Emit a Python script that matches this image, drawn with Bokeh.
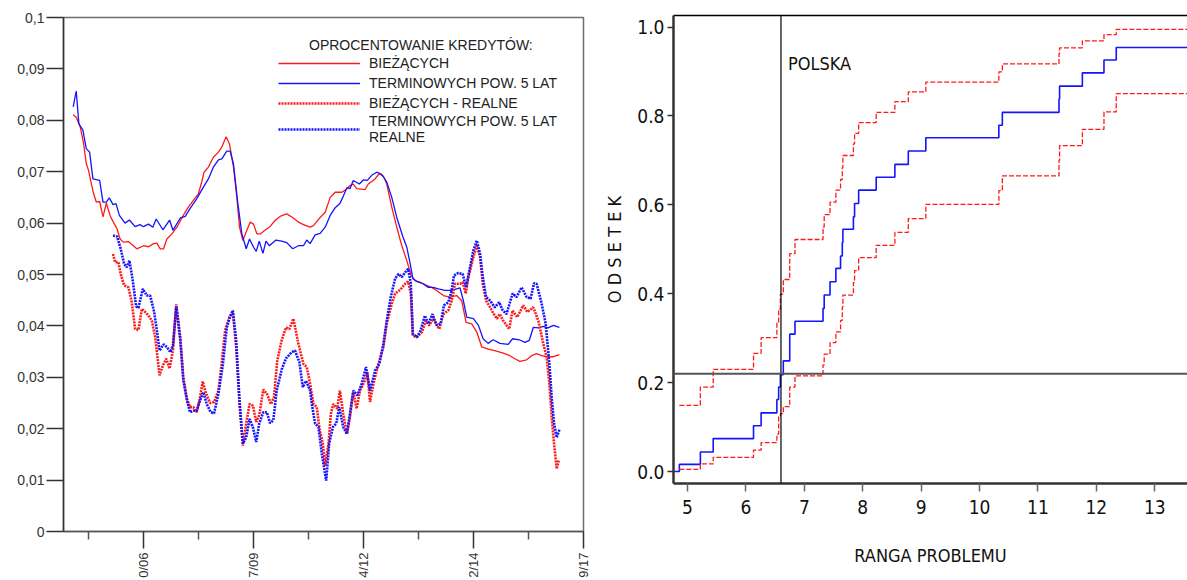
import math
from bokeh.plotting import figure
from bokeh.models import (FixedTicker, CustomJSTickFormatter, Legend, LegendItem,
                          Span, Label, LinearAxis, PrintfTickFormatter, Range1d)
from bokeh.layouts import row
from bokeh.embed import file_html
from bokeh.resources import INLINE

# ---------------- LEFT CHART DATA (x = months since Jan 2005) ----------------
biez_x = [0.0, 0.9, 2.1, 3.1, 3.9, 4.6, 5.3, 6.1, 6.9, 7.9, 8.9, 9.9, 11.1, 12.0, 13.1, 14.0, 15.0, 16.5,
          19.0, 21.0, 22.5, 24.0, 25.0, 26.0, 27.0, 28.0, 29.5, 31.0, 32.9, 34.4, 35.9, 37.4, 38.4, 39.1,
          40.4, 41.9, 43.4, 44.4, 45.7, 46.7, 47.9, 48.9, 49.7, 50.7, 51.9, 52.9, 53.9, 54.9, 55.9, 57.3,
          58.8, 60.3, 61.8, 63.8, 65.8, 67.3, 68.8, 70.8, 71.8, 73.8, 75.3, 76.8, 78.3, 80.3, 81.8, 82.7,
          83.7, 84.7, 87.2, 88.2, 90.2, 91.4, 92.7, 93.7, 95.2, 96.7, 98.2, 99.7, 101.0, 102.2, 103.6,
          105.6, 107.1, 108.6, 110.6, 112.6, 114.6, 116.1, 117.4, 119.1, 120.6, 122.1, 124.0, 126.0,
          128.5, 130.5, 132.0, 133.5, 135.5, 137.0, 138.5, 140.0, 141.5, 143.5, 145.3]
biez_y = [0.0811, 0.0806, 0.0787, 0.0755, 0.0716, 0.0702, 0.0680, 0.0657, 0.0641, 0.0642, 0.0612, 0.0639,
          0.0613, 0.0602, 0.0589, 0.0569, 0.0563, 0.0564, 0.0550, 0.0556, 0.0554, 0.0560, 0.0561, 0.0550,
          0.0550, 0.0569, 0.0579, 0.0592, 0.0615, 0.0631, 0.0644, 0.0657, 0.0680, 0.0699, 0.0709, 0.0728,
          0.0738, 0.0748, 0.0768, 0.0754, 0.0709, 0.0650, 0.0592, 0.0566, 0.0586, 0.0602, 0.0598, 0.0579,
          0.0579, 0.0586, 0.0593, 0.0605, 0.0613, 0.0618, 0.0610, 0.0602, 0.0597, 0.0592, 0.0595, 0.0611,
          0.0621, 0.0650, 0.0660, 0.0660, 0.0667, 0.0673, 0.0676, 0.0667, 0.0665, 0.0676, 0.0686, 0.0696,
          0.0691, 0.0676, 0.0631, 0.0592, 0.0556, 0.0527, 0.0498, 0.0488, 0.0485, 0.0479, 0.0475, 0.0469,
          0.0459, 0.0456, 0.0459, 0.0449, 0.0407, 0.0404, 0.0388, 0.0359, 0.0355, 0.0352, 0.0347, 0.0342,
          0.0336, 0.0331, 0.0334, 0.0342, 0.0346, 0.0342, 0.0340, 0.0340, 0.0344]

term_x = [0.0, 0.9, 1.7, 2.9, 3.9, 4.9, 5.9, 7.9, 8.9, 9.9, 10.8, 11.9, 12.8, 13.8, 15.5, 16.8, 18.5, 20.0,
          21.0, 22.5, 23.8, 24.8, 26.8, 28.8, 29.8, 32.0, 33.5, 34.9, 36.9, 38.9, 40.4, 41.9, 43.4, 44.4,
          45.9, 46.9, 47.9, 49.1, 50.4, 51.7, 52.7, 53.9, 54.7, 55.6, 56.7, 57.6, 58.6, 60.6, 62.3, 63.8,
          65.6, 67.3, 68.8, 69.8, 70.8, 72.3, 73.8, 75.3, 76.8, 78.3, 79.7, 80.7, 81.8, 82.7, 83.7, 85.5,
          86.7, 87.9, 89.2, 90.7, 92.2, 93.7, 95.2, 96.7, 98.5, 99.7, 100.7, 101.5, 102.8, 104.6, 106.1,
          107.6, 109.1, 111.1, 113.1, 115.6, 116.6, 117.6, 119.6, 121.1, 122.5, 124.0, 125.5, 127.5, 130.0,
          131.3, 133.3, 135.0, 136.3, 137.5, 139.0, 140.5, 141.9, 143.5, 145.3]
term_y = [0.0826, 0.0857, 0.0793, 0.0781, 0.0745, 0.0738, 0.0686, 0.0683, 0.0641, 0.0641, 0.0649, 0.0636,
          0.0638, 0.0615, 0.0600, 0.0606, 0.0593, 0.0597, 0.0593, 0.0598, 0.0592, 0.0608, 0.0587, 0.0606,
          0.0586, 0.0610, 0.0613, 0.0628, 0.0647, 0.0670, 0.0686, 0.0709, 0.0723, 0.0725, 0.0740, 0.0740,
          0.0715, 0.0644, 0.0579, 0.0550, 0.0569, 0.0553, 0.0545, 0.0565, 0.0541, 0.0565, 0.0556, 0.0567,
          0.0565, 0.0562, 0.0550, 0.0556, 0.0556, 0.0567, 0.0560, 0.0577, 0.0580, 0.0592, 0.0615, 0.0630,
          0.0638, 0.0652, 0.0669, 0.0667, 0.0683, 0.0676, 0.0684, 0.0683, 0.0693, 0.0699, 0.0695, 0.0680,
          0.0650, 0.0611, 0.0574, 0.0553, 0.0521, 0.0492, 0.0486, 0.0482, 0.0475, 0.0475, 0.0472, 0.0469,
          0.0469, 0.0474, 0.0449, 0.0417, 0.0414, 0.0401, 0.0375, 0.0366, 0.0373, 0.0366, 0.0364, 0.0375,
          0.0373, 0.0368, 0.0372, 0.0397, 0.0396, 0.0399, 0.0396, 0.0401, 0.0397]

biez_real_x = [11.9, 12.5, 13.5, 14.2, 15.2, 16.5, 17.5, 18.5, 19.5, 20.5, 21.5, 22.5, 23.5, 24.5, 25.8,
               26.8, 27.8, 28.8, 29.8, 30.8, 32.0, 32.9, 34.0, 34.9, 35.9, 36.9, 37.9, 38.7, 39.7, 40.9,
               42.1, 43.4, 44.4, 45.4, 46.7, 47.7, 48.7, 49.7, 50.7, 51.7, 52.7, 53.7, 54.7, 55.6, 56.8,
               57.9, 59.1, 60.0, 61.0, 62.3, 63.6, 64.6, 65.8, 67.3, 68.8, 69.8, 70.8, 71.8, 72.8, 73.6,
               74.6, 75.3, 76.3, 77.0, 77.7, 78.9, 79.7, 80.7, 81.8, 82.7, 83.7, 84.7, 85.7, 87.2, 87.9,
               88.7, 89.7, 91.2, 92.7, 93.7, 95.2, 96.2, 97.7, 99.2, 100.1, 100.9, 101.5, 102.7, 104.2,
               105.4, 106.4, 107.6, 109.4, 110.6, 112.1, 113.1, 114.1, 115.6, 116.4, 117.3, 118.1, 119.6,
               120.6, 121.6, 122.4, 123.4, 124.6, 125.7, 126.6, 127.5, 128.5, 130.3, 131.3, 132.7, 134.5,
               135.7, 137.5, 139.0, 140.5, 141.5, 142.3, 143.0, 143.7, 144.5, 145.1]
biez_real_y = [0.0540, 0.0524, 0.0524, 0.0501, 0.0479, 0.0475, 0.0446, 0.0394, 0.0392, 0.0433, 0.0427,
               0.0420, 0.0410, 0.0378, 0.0304, 0.0323, 0.0336, 0.0317, 0.0352, 0.0442, 0.0378, 0.0300,
               0.0258, 0.0242, 0.0242, 0.0232, 0.0261, 0.0292, 0.0268, 0.0250, 0.0252, 0.0274, 0.0329,
               0.0391, 0.0418, 0.0427, 0.0359, 0.0248, 0.0167, 0.0210, 0.0248, 0.0245, 0.0213, 0.0226,
               0.0276, 0.0268, 0.0248, 0.0261, 0.0333, 0.0372, 0.0397, 0.0394, 0.0414, 0.0365, 0.0326,
               0.0320, 0.0287, 0.0248, 0.0242, 0.0200, 0.0171, 0.0128, 0.0171, 0.0229, 0.0248, 0.0239,
               0.0274, 0.0229, 0.0190, 0.0222, 0.0271, 0.0239, 0.0274, 0.0294, 0.0310, 0.0252, 0.0287,
               0.0326, 0.0359, 0.0404, 0.0443, 0.0463, 0.0470, 0.0482, 0.0486, 0.0463, 0.0381, 0.0378,
               0.0388, 0.0410, 0.0401, 0.0414, 0.0394, 0.0423, 0.0430, 0.0449, 0.0482, 0.0482, 0.0485,
               0.0463, 0.0495, 0.0534, 0.0556, 0.0534, 0.0482, 0.0449, 0.0436, 0.0423, 0.0414, 0.0423,
               0.0410, 0.0394, 0.0430, 0.0417, 0.0440, 0.0427, 0.0436, 0.0410, 0.0365, 0.0339, 0.0287,
               0.0222, 0.0171, 0.0122, 0.0138]

term_real_x = [11.9, 13.1, 14.2, 15.2, 16.0, 16.8, 17.8, 18.8, 19.5, 20.8, 22.0, 23.0, 24.2, 25.0, 25.8,
               27.0, 28.0, 29.0, 29.8, 30.8, 32.0, 32.9, 34.0, 34.9, 35.9, 36.9, 37.9, 38.9, 39.9, 41.1,
               42.1, 43.4, 44.7, 45.9, 46.9, 47.7, 48.7, 49.7, 50.7, 51.7, 52.7, 53.7, 54.7, 55.6, 56.8,
               57.9, 58.8, 59.8, 60.8, 62.3, 63.6, 65.3, 66.3, 67.6, 68.6, 69.6, 70.8, 71.3, 72.3, 73.3,
               74.3, 75.6, 76.5, 77.6, 78.6, 79.5, 80.7, 81.8, 82.7, 83.7, 84.9, 86.2, 87.5, 88.7, 90.2,
               91.5, 92.7, 93.7, 94.9, 96.2, 97.2, 98.2, 99.2, 100.1, 100.9, 101.5, 102.7, 103.8, 105.1,
               106.1, 107.4, 108.6, 109.8, 110.8, 112.1, 113.1, 113.8, 115.1, 116.4, 117.4, 118.4, 119.6,
               120.6, 121.6, 122.4, 123.4, 124.6, 126.0, 127.3, 128.3, 129.5, 131.3, 132.5, 134.0, 135.5,
               136.7, 137.7, 138.5, 140.0, 141.2, 142.3, 143.0, 143.7, 144.5, 145.3]
term_real_y = [0.0576, 0.0574, 0.0550, 0.0521, 0.0514, 0.0527, 0.0488, 0.0438, 0.0435, 0.0472, 0.0459,
               0.0459, 0.0427, 0.0391, 0.0352, 0.0364, 0.0359, 0.0349, 0.0362, 0.0438, 0.0372, 0.0294,
               0.0255, 0.0232, 0.0235, 0.0235, 0.0255, 0.0271, 0.0248, 0.0232, 0.0230, 0.0268, 0.0323,
               0.0397, 0.0418, 0.0430, 0.0372, 0.0255, 0.0171, 0.0183, 0.0219, 0.0203, 0.0174, 0.0210,
               0.0232, 0.0232, 0.0211, 0.0216, 0.0274, 0.0315, 0.0337, 0.0349, 0.0352, 0.0329, 0.0281,
               0.0293, 0.0274, 0.0248, 0.0210, 0.0203, 0.0151, 0.0099, 0.0171, 0.0203, 0.0210, 0.0242,
               0.0203, 0.0190, 0.0229, 0.0274, 0.0265, 0.0287, 0.0320, 0.0274, 0.0313, 0.0326, 0.0365,
               0.0410, 0.0456, 0.0492, 0.0501, 0.0495, 0.0504, 0.0511, 0.0482, 0.0385, 0.0378, 0.0391,
               0.0420, 0.0404, 0.0423, 0.0401, 0.0404, 0.0440, 0.0446, 0.0469, 0.0498, 0.0503, 0.0501,
               0.0475, 0.0508, 0.0547, 0.0566, 0.0540, 0.0495, 0.0456, 0.0449, 0.0436, 0.0446, 0.0431,
               0.0423, 0.0463, 0.0456, 0.0475, 0.0456, 0.0453, 0.0483, 0.0482, 0.0443, 0.0404, 0.0326,
               0.0261, 0.0210, 0.0183, 0.0198]

x_major_ticks = [21.0, 53.85, 86.7, 119.55, 152.4]
x_minor_ticks = [4.57, 37.4, 70.3, 103.1, 136.0]
x_tick_labels = ["0/06", "7/09", "4/12", "2/14", "9/17"]
y_ticks_left = [0.0, 0.01, 0.02, 0.03, 0.04, 0.05, 0.06, 0.07, 0.08, 0.09, 0.1]

legend_title = "OPROCENTOWANIE KREDYTÓW:"
series_names = ["BIEŻĄCYCH", "TERMINOWYCH POW. 5 LAT", "BIEŻĄCYCH - REALNE",
                "TERMINOWYCH POW. 5 LAT\nREALNE"]

# ---------------- RIGHT CHART DATA ----------------
rank_steps = [4.86, 5.22, 5.44, 6.13, 6.26, 6.53, 6.56, 6.59, 6.64, 6.75, 6.84, 7.32, 7.34, 7.44, 7.54,
              7.62, 7.65, 7.66, 7.84, 7.86, 7.93, 8.23, 8.55, 8.78, 9.08, 10.33, 10.39, 11.36, 11.37,
              11.76, 12.13, 12.34]
share_mid = [0.016, 0.044, 0.074, 0.103, 0.132, 0.162, 0.190, 0.218, 0.249, 0.309, 0.338, 0.367, 0.397,
             0.427, 0.457, 0.485, 0.515, 0.545, 0.573, 0.603, 0.633, 0.662, 0.691, 0.721, 0.751, 0.779,
             0.808, 0.838, 0.867, 0.897, 0.926, 0.954]
share_upper = [0.149, 0.190, 0.230, 0.266, 0.301, 0.335, 0.365, 0.399, 0.432, 0.490, 0.522, 0.550, 0.578,
               0.606, 0.633, 0.657, 0.684, 0.711, 0.737, 0.761, 0.785, 0.808, 0.832, 0.854, 0.876, 0.899,
               0.917, 0.940, 0.953, 0.969, 0.983, 0.995]
share_lower = [0.005, 0.017, 0.032, 0.048, 0.065, 0.084, 0.123, 0.130, 0.146, 0.190, 0.215, 0.240, 0.264,
               0.290, 0.314, 0.340, 0.370, 0.397, 0.425, 0.452, 0.481, 0.509, 0.538, 0.569, 0.601, 0.632,
               0.665, 0.700, 0.733, 0.770, 0.809, 0.850]
polska_rank = 6.6
polska_share = 0.22
x_ticks_right = [5, 6, 7, 8, 9, 10, 11, 12, 13]
y_ticks_right = [0.0, 0.2, 0.4, 0.6, 0.8, 1.0]

RED = "#ff1a1a"
BLUE = "#1414ff"
ARIAL = "Liberation Sans"
NARROW = "DejaVu Sans Condensed"

# ================= LEFT FIGURE =================
xr_left = Range1d(-2.9, 152.5)
p1 = figure(width=600, height=580, output_backend="svg", toolbar_location=None,
            x_range=xr_left, y_range=Range1d(0, 0.1),
            min_border_left=63, min_border_right=17, min_border_top=17, min_border_bottom=49)
p1.frame_align = False
p1.grid.visible = False
p1.outline_line_color = "#6e6e6e"
p1.outline_line_width = 1.5
p1.background_fill_color = "white"
p1.border_fill_color = "white"

r1 = p1.line(biez_x, biez_y, line_color=RED, line_width=1.3)
r2 = p1.line(term_x, term_y, line_color=BLUE, line_width=1.3)
r3 = p1.line(biez_real_x, biez_real_y, line_color=RED, line_width=2.6, line_dash="2 1")
r4 = p1.line(term_real_x, term_real_y, line_color=BLUE, line_width=2.6, line_dash="2 1")

xa = p1.xaxis[0]
xa.ticker = FixedTicker(ticks=x_major_ticks, minor_ticks=x_minor_ticks)
xa.formatter = CustomJSTickFormatter(args=dict(labels=x_tick_labels), code="return labels[index];")
xa.major_label_orientation = math.pi / 2
xa.major_tick_out = 17
xa.major_tick_in = 0
xa.minor_tick_out = 8
xa.minor_tick_in = 0
xa.axis_line_color = "#555555"
xa.axis_line_width = 1.5
xa.major_tick_line_color = "#333333"
xa.major_tick_line_width = 1.5
xa.minor_tick_line_color = "#555555"
xa.minor_tick_line_width = 1.5
xa.major_label_text_font = ARIAL
xa.major_label_text_font_size = "13px"
xa.major_label_text_color = "#333333"
xa.major_label_standoff = 4

ya = p1.yaxis[0]
ya.ticker = FixedTicker(ticks=y_ticks_left)
ya.formatter = CustomJSTickFormatter(code="return String(+tick.toFixed(2)).replace('.', ',');")
ya.major_tick_out = 17
ya.major_tick_in = 0
ya.minor_tick_line_color = None
ya.axis_line_color = "#333333"
ya.axis_line_width = 1.5
ya.major_tick_line_color = "#333333"
ya.major_tick_line_width = 1.5
ya.major_label_text_font = ARIAL
ya.major_label_text_font_size = "14px"
ya.major_label_text_color = "#333333"
ya.major_label_standoff = 2

legend = Legend(items=[LegendItem(label=series_names[0], renderers=[r1]),
                       LegendItem(label=series_names[1], renderers=[r2]),
                       LegendItem(label=series_names[2], renderers=[r3]),
                       LegendItem(label=series_names[3], renderers=[r4])],
                location=(215, 386), glyph_width=82, glyph_height=20, label_height=20,
                label_standoff=9, spacing=0, padding=0, margin=0,
                border_line_color=None, background_fill_alpha=0,
                label_text_font=ARIAL, label_text_font_size="14px", label_text_color="#222222")
p1.add_layout(legend)
p1.add_layout(Label(x=103.9, y=0.0946, text=legend_title, text_align="center",
                    text_baseline="middle", text_font=ARIAL, text_font_size="14px",
                    text_color="#222222"))

# ================= RIGHT FIGURE =================
x_end = 13.56
p2 = figure(width=587, height=580, output_backend="svg", toolbar_location=None,
            x_range=Range1d(4.76, x_end), y_range=Range1d(-0.027, 1.026),
            min_border_left=73, min_border_right=0, min_border_top=15, min_border_bottom=97)
p2.frame_align = False
p2.grid.visible = False
p2.outline_line_color = None

p2.step([4.76] + rank_steps + [x_end], [0.0] + share_mid + [share_mid[-1]], mode="after",
        line_color=BLUE, line_width=1.6)
p2.step(rank_steps + [x_end], share_upper + [share_upper[-1]], mode="after",
        line_color=RED, line_width=1.3, line_dash="5 2")
p2.step(rank_steps + [x_end], share_lower + [share_lower[-1]], mode="after",
        line_color=RED, line_width=1.3, line_dash="5 2")

p2.add_layout(Span(location=polska_rank, dimension="height", line_color="black", line_width=1.2))
p2.add_layout(Span(location=polska_share, dimension="width", line_color="#555555", line_width=2))
p2.add_layout(Label(x=polska_rank + 0.12, y=0.917, text="POLSKA", text_baseline="middle",
                    text_font=NARROW, text_font_size="18px", text_color="#111111"))

xb = p2.xaxis[0]
xb.ticker = FixedTicker(ticks=x_ticks_right)
xb.minor_tick_line_color = None
xb.major_tick_out = 8
xb.major_tick_in = 0
xb.major_tick_line_color = "#666666"
xb.major_tick_line_width = 1.5
xb.axis_line_color = "#333333"
xb.axis_line_width = 2.5
xb.major_label_text_font = NARROW
xb.major_label_text_font_size = "19px"
xb.major_label_text_color = "#111111"
xb.major_label_standoff = 8
xb.axis_label = "RANGA PROBLEMU"
xb.axis_label_text_font = NARROW
xb.axis_label_text_font_size = "18px"
xb.axis_label_text_font_style = "normal"
xb.axis_label_text_color = "#111111"
xb.axis_label_standoff = 28

yb = p2.yaxis[0]
yb.ticker = FixedTicker(ticks=y_ticks_right)
yb.formatter = PrintfTickFormatter(format="%.1f")
yb.minor_tick_line_color = None
yb.major_tick_out = 6
yb.major_tick_in = 0
yb.major_tick_line_color = "#333333"
yb.major_tick_line_width = 1.5
yb.axis_line_color = "#333333"
yb.axis_line_width = 2.5
yb.major_label_text_font = NARROW
yb.major_label_text_font_size = "19px"
yb.major_label_text_color = "#111111"
yb.major_label_standoff = 3
yb.axis_label = "O D S E T E K"
yb.axis_label_text_font = NARROW
yb.axis_label_text_font_size = "18px"
yb.axis_label_text_font_style = "normal"
yb.axis_label_text_color = "#111111"
yb.axis_label_standoff = 9

top_axis = LinearAxis(ticker=FixedTicker(ticks=[]), axis_line_color="black", axis_line_width=1.5,
                      major_tick_line_color=None, minor_tick_line_color=None)
p2.add_layout(top_axis, "above")

layout = row(p1, p2)
open("out.html", "w").write(file_html(layout, INLINE))
